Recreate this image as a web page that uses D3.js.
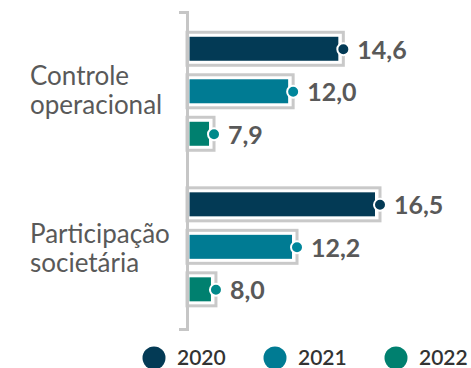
<!DOCTYPE html>
<html>
<head>
<meta charset="utf-8">
<script src="https://cdn.jsdelivr.net/npm/d3@7"></script>
<style>
  html, body { margin: 0; padding: 0; background: #fff; }
  svg { display: block; font-family: Lato, "Open Sans", sans-serif; }
</style>
</head>
<body>
<svg id="chart" width="471" height="368"></svg>
<script>
// Categories (two lines each) and yearly series
const categories = ["Controle operacional", "Participação societária"];
const categoryLines = [["Controle", "operacional"], ["Participação", "societária"]];
const years = ["2020", "2021", "2022"];
const values2020 = [14.6, 16.5];
const values2021 = [12.0, 12.2];
const values2022 = [7.9, 8.0];
const seriesValues = [values2020, values2021, values2022];

const barColors = { "2020": "#033a55", "2021": "#007b93", "2022": "#00806f" };
const dotColors = { "2020": "#033a55", "2021": "#00869b", "2022": "#00898a" };

const svg = d3.select("#chart");
const fmt = v => d3.format(".1f")(v).replace(".", ",");

// Value scale: dot centre sits at x(value)
const x = d3.scaleLinear().domain([6.5, 16.5]).range([187, 380]);

// Axis band (labels + axis line) and group band for the bar clusters
const yAxis = d3.scaleBand().domain(categories).range([12, 329]);
const yGroup = d3.scaleBand().domain(categories).range([13.5, 324.6]);
const yInner = d3.scalePoint().domain(years).range([-42.5, 42.5]);

const barH = 24;
const axisX = 187;

// Rows: one per category/year pair
const rows = [];
categories.forEach((c, ci) => {
  years.forEach((yr, yi) => {
    rows.push({ cat: c, year: yr, value: seriesValues[yi][ci] });
  });
});

const cy = d => yGroup(d.cat) + yGroup.bandwidth() / 2 + yInner(d.year);

// Grey frames behind the bars
svg.append("g").selectAll("rect").data(rows).join("rect")
  .attr("x", axisX)
  .attr("y", d => cy(d) - barH / 2 - 4.5)
  .attr("width", d => x(d.value) - axisX)
  .attr("height", barH + 9)
  .attr("fill", "#fff")
  .attr("stroke", "#c9c9c9")
  .attr("stroke-width", 3);

// Bars
svg.append("g").selectAll("rect").data(rows).join("rect")
  .attr("x", axisX + 2.5)
  .attr("y", d => cy(d) - barH / 2)
  .attr("width", d => x(d.value) - 5 - (axisX + 2.5))
  .attr("height", barH)
  .attr("fill", d => barColors[d.year]);

// Axis line with end ticks
const axis = d3.axisLeft(yAxis).tickSize(0).tickSizeOuter(8).tickFormat("");
const gAxis = svg.append("g").attr("transform", `translate(${axisX},0)`).call(axis);
gAxis.select(".domain").attr("stroke", "#c6c6c6").attr("stroke-width", 3).attr("fill", "none");

// End dots
svg.append("g").selectAll("circle").data(rows).join("circle")
  .attr("cx", d => x(d.value))
  .attr("cy", d => cy(d) + 0.5)
  .attr("r", 6)
  .attr("fill", d => dotColors[d.year])
  .attr("stroke", "#fff")
  .attr("stroke-width", 2);

// Value labels
svg.append("g").selectAll("text").data(rows).join("text")
  .attr("x", d => x(d.value) + 14)
  .attr("y", d => cy(d) + 10)
  .attr("font-size", 25)
  .attr("font-weight", 700)
  .attr("fill", "#595959")
  .text(d => fmt(d.value));

// Category labels
const catLabels = svg.append("g").selectAll("text").data(categories).join("text")
  .attr("x", 30)
  .attr("font-size", 26)
  .attr("fill", "#595959");
catLabels.each(function(c, i) {
  const c0 = yAxis(c) + yAxis.bandwidth() / 2;
  d3.select(this).selectAll("tspan").data(categoryLines[i]).join("tspan")
    .attr("x", 30)
    .attr("y", (t, j) => c0 - 6.5 + j * 29)
    .text(t => t);
});

// Legend
const legend = svg.append("g").selectAll("g").data(years).join("g")
  .attr("transform", (d, i) => `translate(${154 + i * 121},358)`);
legend.append("circle").attr("r", 11.5).attr("fill", d => barColors[d]);
legend.append("text")
  .attr("x", 23)
  .attr("y", 6.5)
  .attr("font-size", 21)
  .attr("font-weight", 600)
  .attr("fill", "#333")
  .text(d => d);
</script>
</body>
</html>
